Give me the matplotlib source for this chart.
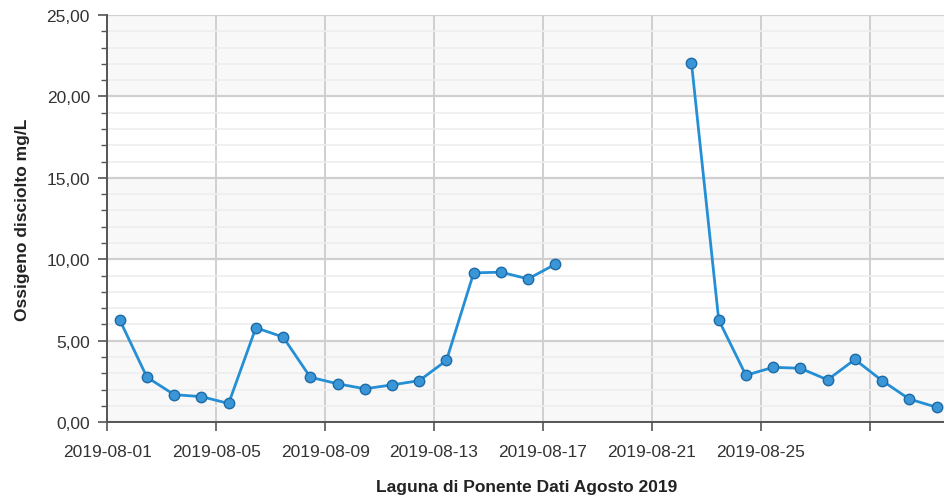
import numpy as np
import matplotlib
matplotlib.use("Agg")
import matplotlib.pyplot as plt
from matplotlib.ticker import MultipleLocator, FuncFormatter
from datetime import datetime, timedelta

# daily readings, Agosto 2019 (None = no data)
days = list(range(1, 32))
oxygen = [6.28, 2.76, 1.69, 1.57, 1.15, 5.80, 5.23, 2.76, 2.36, 2.05, 2.29, 2.55,
          3.79, 9.17, 9.21, 8.80, 9.70, None, None, None, None, 22.06, 6.28, 2.88,
          3.37, 3.31, 2.60, 3.85, 2.55, 1.42, 0.92]
tick_days = [1, 5, 9, 13, 17, 21, 25, 29]
tick_labels = ["2019-08-01", "2019-08-05", "2019-08-09", "2019-08-13",
               "2019-08-17", "2019-08-21", "2019-08-25", ""]

plt.rcParams['font.family'] = ['Liberation Sans', 'DejaVu Sans']

times = [datetime(2019, 8, d, 11, 0) for d in days]
vals = np.array([np.nan if v is None else v for v in oxygen])

fig = plt.figure(figsize=(9.45, 5.02), dpi=100)
ax = fig.add_axes([0.1135, 0.157, 0.8865, 0.811])

x0 = datetime(2019, 8, 1)
x1 = x0 + timedelta(days=30.77)
ax.set_xlim(x0, x1)
ax.set_ylim(0, 25)

# alternating bands
for lo in (0, 10, 20):
    ax.axhspan(lo, lo + 5, color="#f8f8f8", zorder=0, lw=0)

# minor / major grid
ax.yaxis.set_major_locator(MultipleLocator(5))
ax.yaxis.set_minor_locator(MultipleLocator(1))
ax.grid(axis="y", which="minor", color="#eeeeee", lw=1.2, zorder=1)
ax.grid(axis="y", which="major", color="#cfcfcf", lw=1.6, zorder=1)
ax.grid(axis="x", which="major", color="#cfcfcf", lw=1.4, zorder=1)
ax.set_axisbelow(True)

ax.set_xticks([datetime(2019, 8, d) for d in tick_days])
ax.set_xticklabels(tick_labels)
ax.yaxis.set_major_formatter(FuncFormatter(lambda v, p: f"{v:.2f}".replace(".", ",")))

ax.plot(times, vals, color="#258fd6", lw=2.0, marker="o", markersize=7.5,
        markerfacecolor="#3a96d6", markeredgecolor="#1c6aa6", markeredgewidth=1.0,
        zorder=3, clip_on=False)

for s in ("top", "right"):
    ax.spines[s].set_visible(False)
for s in ("left", "bottom"):
    ax.spines[s].set_color("#555555")
    ax.spines[s].set_linewidth(1.4)

ax.tick_params(axis="both", which="major", length=6.5, width=1.2, color="#555555",
               labelsize=12.5, labelcolor="#333333")
ax.tick_params(axis="y", which="minor", length=4.5, width=1.0, color="#555555")
ax.tick_params(axis="x", pad=9.5)
ax.tick_params(axis="y", pad=6)

ax.set_xlabel("Laguna di Ponente Dati Agosto 2019", fontsize=12.5, fontweight="bold",
              color="#222222", labelpad=14)
ax.set_ylabel("Ossigeno disciolto mg/L", fontsize=12.5, fontweight="bold",
              color="#222222", labelpad=12)

fig.savefig("out.png", dpi=100)
